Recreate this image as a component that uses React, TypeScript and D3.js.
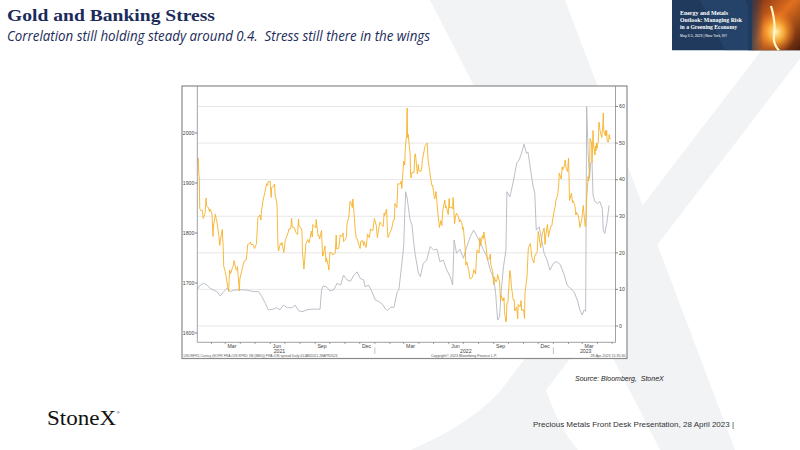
import * as d3 from "d3";

// Gold spot (left axis, USD/oz)
const gold2021: [string, number][] = [
  ["2021-01-04", 1943], ["2021-01-05", 1950], ["2021-01-06", 1918], ["2021-01-07", 1913], ["2021-01-08", 1849],
  ["2021-01-11", 1844], ["2021-01-13", 1846], ["2021-01-15", 1829], ["2021-01-19", 1840], ["2021-01-21", 1870],
  ["2021-01-22", 1855], ["2021-01-26", 1850], ["2021-01-28", 1843], ["2021-01-29", 1848], ["2021-02-02", 1838],
  ["2021-02-04", 1793], ["2021-02-05", 1814], ["2021-02-09", 1838], ["2021-02-11", 1826], ["2021-02-12", 1824],
  ["2021-02-16", 1795], ["2021-02-18", 1775], ["2021-02-19", 1784], ["2021-02-23", 1807], ["2021-02-25", 1771],
  ["2021-02-26", 1734], ["2021-03-01", 1723], ["2021-03-03", 1713], ["2021-03-05", 1700], ["2021-03-08", 1683],
  ["2021-03-10", 1726], ["2021-03-12", 1719], ["2021-03-16", 1731], ["2021-03-18", 1736], ["2021-03-19", 1745],
  ["2021-03-23", 1727], ["2021-03-25", 1725], ["2021-03-26", 1733], ["2021-03-30", 1684], ["2021-03-31", 1708],
  ["2021-04-05", 1729], ["2021-04-07", 1737], ["2021-04-09", 1744], ["2021-04-13", 1746], ["2021-04-15", 1764],
  ["2021-04-16", 1777], ["2021-04-20", 1779], ["2021-04-22", 1782], ["2021-04-23", 1777], ["2021-04-27", 1777],
  ["2021-04-29", 1772], ["2021-04-30", 1769], ["2021-05-04", 1779], ["2021-05-06", 1815], ["2021-05-07", 1831],
  ["2021-05-11", 1836], ["2021-05-13", 1826], ["2021-05-14", 1844], ["2021-05-18", 1868], ["2021-05-20", 1876],
  ["2021-05-21", 1881], ["2021-05-25", 1899], ["2021-05-27", 1895], ["2021-05-28", 1903], ["2021-06-01", 1903],
  ["2021-06-03", 1871], ["2021-06-04", 1891], ["2021-06-08", 1893], ["2021-06-10", 1898], ["2021-06-11", 1877],
  ["2021-06-15", 1858], ["2021-06-16", 1812], ["2021-06-17", 1773], ["2021-06-18", 1764], ["2021-06-22", 1779],
  ["2021-06-24", 1776], ["2021-06-25", 1781], ["2021-06-29", 1761], ["2021-06-30", 1770], ["2021-07-02", 1787],
  ["2021-07-06", 1796], ["2021-07-08", 1802], ["2021-07-09", 1808], ["2021-07-13", 1808], ["2021-07-15", 1829],
  ["2021-07-16", 1812], ["2021-07-20", 1811], ["2021-07-22", 1806], ["2021-07-23", 1802], ["2021-07-27", 1797],
  ["2021-07-29", 1828], ["2021-07-30", 1814], ["2021-08-03", 1810], ["2021-08-05", 1804], ["2021-08-06", 1763],
  ["2021-08-09", 1728], ["2021-08-11", 1752], ["2021-08-13", 1779], ["2021-08-17", 1787], ["2021-08-19", 1781],
  ["2021-08-20", 1781], ["2021-08-24", 1804], ["2021-08-26", 1792], ["2021-08-27", 1817], ["2021-08-31", 1813],
  ["2021-09-02", 1810], ["2021-09-03", 1827], ["2021-09-07", 1794], ["2021-09-09", 1795], ["2021-09-10", 1788],
  ["2021-09-14", 1805], ["2021-09-16", 1754], ["2021-09-17", 1754], ["2021-09-21", 1774], ["2021-09-23", 1742],
  ["2021-09-24", 1750], ["2021-09-28", 1734], ["2021-09-29", 1726], ["2021-10-01", 1761], ["2021-10-05", 1760],
  ["2021-10-07", 1756], ["2021-10-08", 1757], ["2021-10-12", 1760], ["2021-10-14", 1796], ["2021-10-15", 1768],
  ["2021-10-19", 1769], ["2021-10-21", 1784], ["2021-10-22", 1796], ["2021-10-26", 1793], ["2021-10-28", 1800],
  ["2021-10-29", 1783], ["2021-11-02", 1788], ["2021-11-04", 1793], ["2021-11-05", 1818], ["2021-11-09", 1832],
  ["2021-11-11", 1862], ["2021-11-12", 1864], ["2021-11-16", 1851], ["2021-11-17", 1868], ["2021-11-19", 1845],
  ["2021-11-22", 1805], ["2021-11-24", 1789], ["2021-11-26", 1788], ["2021-11-30", 1774], ["2021-12-02", 1769],
  ["2021-12-03", 1783], ["2021-12-07", 1785], ["2021-12-09", 1775], ["2021-12-10", 1783], ["2021-12-14", 1771],
  ["2021-12-15", 1778], ["2021-12-17", 1798], ["2021-12-21", 1790], ["2021-12-23", 1808], ["2021-12-28", 1805],
  ["2021-12-31", 1829],
];

const gold2022: [string, number][] = [
  ["2022-01-04", 1815], ["2022-01-06", 1791], ["2022-01-07", 1797], ["2022-01-11", 1821], ["2022-01-13", 1821],
  ["2022-01-14", 1817], ["2022-01-18", 1813], ["2022-01-20", 1840], ["2022-01-21", 1835], ["2022-01-25", 1848],
  ["2022-01-27", 1797], ["2022-01-28", 1791], ["2022-02-01", 1801], ["2022-02-03", 1805], ["2022-02-04", 1807],
  ["2022-02-08", 1826], ["2022-02-10", 1827], ["2022-02-11", 1859], ["2022-02-15", 1851], ["2022-02-17", 1899],
  ["2022-02-18", 1898], ["2022-02-22", 1898], ["2022-02-24", 1904], ["2022-02-25", 1889], ["2022-03-01", 1944],
  ["2022-03-03", 1936], ["2022-03-04", 1966], ["2022-03-07", 1998], ["2022-03-08", 2050], ["2022-03-09", 1991],
  ["2022-03-10", 1998], ["2022-03-11", 1988], ["2022-03-14", 1960], ["2022-03-15", 1917], ["2022-03-16", 1910],
  ["2022-03-18", 1921], ["2022-03-22", 1921], ["2022-03-24", 1958], ["2022-03-25", 1958], ["2022-03-29", 1918],
  ["2022-03-31", 1937], ["2022-04-01", 1925], ["2022-04-05", 1923], ["2022-04-07", 1931], ["2022-04-08", 1945],
  ["2022-04-12", 1966], ["2022-04-14", 1975], ["2022-04-18", 1980], ["2022-04-20", 1945], ["2022-04-22", 1931],
  ["2022-04-26", 1904], ["2022-04-28", 1894], ["2022-04-29", 1896], ["2022-05-03", 1868], ["2022-05-05", 1876],
  ["2022-05-06", 1883], ["2022-05-10", 1838], ["2022-05-12", 1821], ["2022-05-13", 1811], ["2022-05-16", 1825],
  ["2022-05-18", 1815], ["2022-05-20", 1846], ["2022-05-24", 1866], ["2022-05-26", 1850], ["2022-05-27", 1853],
  ["2022-05-31", 1837], ["2022-06-02", 1869], ["2022-06-03", 1850], ["2022-06-07", 1852], ["2022-06-09", 1848],
  ["2022-06-10", 1871], ["2022-06-13", 1819], ["2022-06-15", 1834], ["2022-06-17", 1840], ["2022-06-21", 1832],
  ["2022-06-23", 1822], ["2022-06-24", 1827], ["2022-06-28", 1820], ["2022-06-30", 1807], ["2022-07-01", 1811],
  ["2022-07-05", 1764], ["2022-07-06", 1736], ["2022-07-08", 1742], ["2022-07-12", 1725], ["2022-07-14", 1711],
  ["2022-07-15", 1708], ["2022-07-19", 1711], ["2022-07-21", 1718], ["2022-07-22", 1727], ["2022-07-26", 1718],
  ["2022-07-28", 1756], ["2022-07-29", 1766], ["2022-08-02", 1760], ["2022-08-04", 1791], ["2022-08-05", 1775],
  ["2022-08-09", 1795], ["2022-08-11", 1789], ["2022-08-12", 1802], ["2022-08-16", 1775], ["2022-08-18", 1758],
  ["2022-08-19", 1747], ["2022-08-23", 1748], ["2022-08-25", 1758], ["2022-08-26", 1737], ["2022-08-30", 1723],
  ["2022-09-01", 1697], ["2022-09-02", 1712], ["2022-09-06", 1702], ["2022-09-08", 1708], ["2022-09-09", 1717],
  ["2022-09-13", 1702], ["2022-09-15", 1665], ["2022-09-16", 1675], ["2022-09-20", 1664], ["2022-09-22", 1671],
  ["2022-09-23", 1643], ["2022-09-26", 1622], ["2022-09-27", 1628], ["2022-09-28", 1660], ["2022-09-30", 1661],
  ["2022-10-04", 1725], ["2022-10-06", 1712], ["2022-10-07", 1694], ["2022-10-11", 1666], ["2022-10-13", 1666],
  ["2022-10-14", 1644], ["2022-10-18", 1652], ["2022-10-20", 1628], ["2022-10-21", 1657], ["2022-10-25", 1652],
  ["2022-10-27", 1665], ["2022-10-28", 1645], ["2022-11-01", 1647], ["2022-11-03", 1629], ["2022-11-04", 1681],
  ["2022-11-08", 1712], ["2022-11-10", 1755], ["2022-11-11", 1771], ["2022-11-15", 1779], ["2022-11-17", 1761],
  ["2022-11-18", 1751], ["2022-11-22", 1740], ["2022-11-24", 1755], ["2022-11-25", 1755], ["2022-11-29", 1763],
  ["2022-12-01", 1803], ["2022-12-02", 1797], ["2022-12-06", 1771], ["2022-12-08", 1789], ["2022-12-09", 1797],
  ["2022-12-13", 1810], ["2022-12-15", 1777], ["2022-12-16", 1793], ["2022-12-20", 1817], ["2022-12-22", 1792],
  ["2022-12-23", 1798], ["2022-12-27", 1814], ["2022-12-29", 1815], ["2022-12-30", 1824],
];

const gold2023: [string, number][] = [
  ["2023-01-03", 1846], ["2023-01-05", 1855], ["2023-01-06", 1865], ["2023-01-10", 1877], ["2023-01-12", 1897],
  ["2023-01-13", 1920], ["2023-01-17", 1908], ["2023-01-19", 1932], ["2023-01-20", 1926], ["2023-01-24", 1936],
  ["2023-01-25", 1946], ["2023-01-27", 1929], ["2023-01-30", 1923], ["2023-02-01", 1950], ["2023-02-02", 1912],
  ["2023-02-03", 1865], ["2023-02-07", 1880], ["2023-02-09", 1861], ["2023-02-10", 1865], ["2023-02-14", 1855],
  ["2023-02-16", 1836], ["2023-02-17", 1842], ["2023-02-21", 1835], ["2023-02-23", 1822], ["2023-02-24", 1811],
  ["2023-02-28", 1827], ["2023-03-01", 1836], ["2023-03-03", 1855], ["2023-03-07", 1813], ["2023-03-08", 1814],
  ["2023-03-09", 1831], ["2023-03-10", 1868], ["2023-03-13", 1913], ["2023-03-14", 1904], ["2023-03-15", 1918],
  ["2023-03-16", 1921], ["2023-03-17", 1989], ["2023-03-20", 1980], ["2023-03-21", 1941], ["2023-03-22", 1970],
  ["2023-03-23", 2005], ["2023-03-24", 1978], ["2023-03-27", 1956], ["2023-03-28", 1974], ["2023-03-29", 1964],
  ["2023-03-30", 1980], ["2023-03-31", 1969], ["2023-04-03", 1984], ["2023-04-04", 2021], ["2023-04-05", 2021],
  ["2023-04-06", 2007], ["2023-04-10", 1991], ["2023-04-11", 2004], ["2023-04-12", 2015], ["2023-04-13", 2040],
  ["2023-04-14", 2004], ["2023-04-17", 1995], ["2023-04-18", 2005], ["2023-04-19", 1994], ["2023-04-20", 2005],
  ["2023-04-21", 1983], ["2023-04-24", 1982], ["2023-04-25", 1997], ["2023-04-26", 1990], ["2023-04-27", 1988],
  ["2023-04-28", 1990],
];

// SOFR FRA-OIS spread (right axis, bp)
const spread2021: [string, number][] = [
  ["2021-01-03", 10.0], ["2021-01-09", 11.2], ["2021-01-16", 11.7], ["2021-01-23", 11.2], ["2021-01-29", 10.3],
  ["2021-02-05", 9.8], ["2021-02-12", 9.4], ["2021-02-19", 8.2], ["2021-02-26", 9.4], ["2021-03-05", 10.3],
  ["2021-03-12", 9.4], ["2021-03-18", 9.8], ["2021-04-01", 9.9], ["2021-04-14", 9.8], ["2021-04-28", 9.4],
  ["2021-05-08", 9.4], ["2021-05-15", 8.0], ["2021-05-22", 6.2], ["2021-05-28", 4.4], ["2021-06-07", 4.6],
  ["2021-06-14", 5.0], ["2021-06-21", 4.4], ["2021-06-28", 5.7], ["2021-07-06", 5.0], ["2021-07-16", 5.0],
  ["2021-07-22", 5.7], ["2021-07-29", 4.2], ["2021-08-05", 3.9], ["2021-08-15", 4.4], ["2021-08-25", 4.6],
  ["2021-09-04", 4.6], ["2021-09-11", 4.6], ["2021-09-14", 9.8], ["2021-09-17", 10.9], ["2021-09-24", 10.7],
  ["2021-10-01", 9.6], ["2021-10-09", 9.9], ["2021-10-16", 11.7], ["2021-10-23", 11.2], ["2021-10-29", 13.9],
  ["2021-11-05", 12.6], ["2021-11-12", 12.2], ["2021-11-19", 13.9], ["2021-11-26", 14.8], ["2021-12-02", 13.0],
  ["2021-12-09", 12.6], ["2021-12-12", 10.7], ["2021-12-19", 11.2], ["2021-12-26", 9.4],
];

const spread2022: [string, number][] = [
  ["2022-01-02", 7.1], ["2022-01-09", 6.7], ["2022-01-16", 6.0], ["2022-01-23", 4.6], ["2022-01-26", 4.2],
  ["2022-02-02", 5.1], ["2022-02-09", 5.1], ["2022-02-16", 9.4], ["2022-02-19", 9.8], ["2022-02-26", 18.0],
  ["2022-03-01", 22.0], ["2022-03-03", 30.0], ["2022-03-05", 36.7], ["2022-03-08", 35.0], ["2022-03-10", 33.0],
  ["2022-03-14", 29.0], ["2022-03-18", 27.6], ["2022-03-21", 23.5], ["2022-03-24", 19.9], ["2022-03-31", 14.5],
  ["2022-04-04", 13.5], ["2022-04-10", 17.1], ["2022-04-17", 18.0], ["2022-04-24", 21.7], ["2022-05-01", 20.8],
  ["2022-05-08", 21.0], ["2022-05-14", 17.6], ["2022-05-21", 18.0], ["2022-05-28", 15.3], ["2022-06-04", 13.5],
  ["2022-06-09", 11.2], ["2022-06-12", 23.5], ["2022-06-17", 19.9], ["2022-06-24", 21.0], ["2022-07-01", 18.5],
  ["2022-07-08", 21.7], ["2022-07-15", 24.4], ["2022-07-22", 26.2], ["2022-07-29", 24.4], ["2022-08-05", 22.6],
  ["2022-08-11", 20.8], ["2022-08-18", 18.9], ["2022-08-25", 15.3], ["2022-09-01", 13.0], ["2022-09-05", 8.9],
  ["2022-09-09", 1.6], ["2022-09-13", 2.5], ["2022-09-16", 8.9], ["2022-09-21", 16.2], ["2022-09-26", 20.8],
  ["2022-09-28", 36.7], ["2022-10-04", 35.3], ["2022-10-11", 39.4], ["2022-10-18", 44.5], ["2022-10-23", 45.4],
  ["2022-10-28", 47.2], ["2022-11-02", 49.7], ["2022-11-07", 47.2], ["2022-11-10", 47.6], ["2022-11-15", 43.1],
  ["2022-11-20", 38.5], ["2022-11-24", 36.3], ["2022-11-27", 26.2], ["2022-12-03", 27.1], ["2022-12-08", 23.5],
  ["2022-12-13", 19.9], ["2022-12-19", 18.0], ["2022-12-25", 15.3],
];

const spread2023: [string, number][] = [
  ["2023-01-01", 17.1], ["2023-01-08", 17.6], ["2023-01-15", 16.8], ["2023-01-22", 14.4], ["2023-01-29", 11.2],
  ["2023-02-05", 10.3], ["2023-02-12", 9.4], ["2023-02-19", 7.1], ["2023-02-24", 4.4], ["2023-03-01", 3.0],
  ["2023-03-05", 4.4], ["2023-03-08", 4.0], ["2023-03-10", 60.0], ["2023-03-13", 47.6], ["2023-03-16", 40.4],
  ["2023-03-18", 44.5], ["2023-03-21", 44.9], ["2023-03-23", 35.8], ["2023-03-27", 34.0], ["2023-04-01", 33.5],
  ["2023-04-06", 34.0], ["2023-04-11", 32.2], ["2023-04-13", 26.2], ["2023-04-16", 25.3], ["2023-04-20", 28.0],
  ["2023-04-23", 31.0], ["2023-04-25", 33.0],
];

const leftTicks = [1600, 1700, 1800, 1900, 2000];
const rightTicks = [0, 10, 20, 30, 40, 50, 60];
const yearLabels: [string, string][] = [
  ["2021", "2021-06-20"],
  ["2022", "2022-07-06"],
  ["2023", "2023-03-08"],
];

const plot = { left: 197.3, right: 615.5, top: 86, bottom: 342.3 };
const navy = "#1c2b5a";

export default function App() {
  const parse = d3.timeParse("%Y-%m-%d");
  const toPts = (arr: [string, number][]) => arr.map(([d, v]) => [parse(d) as Date, v] as [Date, number]);

  const x = d3
    .scaleTime()
    .domain([parse("2021-01-03") as Date, parse("2023-05-08") as Date])
    .range([plot.left, plot.right]);
  const yGold = d3.scaleLinear().domain([1581.4, 2094]).range([plot.bottom, plot.top]);
  const ySpread = d3.scaleLinear().domain([-4.46, 65.6]).range([plot.bottom, plot.top]);

  const goldPath = d3
    .line<[Date, number]>()
    .x((d) => x(d[0]))
    .y((d) => yGold(d[1]))(toPts([...gold2021, ...gold2022, ...gold2023]));
  const spreadPath = d3
    .line<[Date, number]>()
    .x((d) => x(d[0]))
    .y((d) => ySpread(d[1]))(toPts([...spread2021, ...spread2022, ...spread2023]));

  const [d0, d1] = x.domain();
  const months = d3.timeMonth.range(d0, d1);
  const labelMonths = months.filter((m) => m.getMonth() % 3 === 2);
  const yearStarts = d3.timeYear.range(d0, d1);
  const fmtMonth = d3.timeFormat("%b");

  const axisFont = "Liberation Sans, Arial, sans-serif";

  return (
    <svg
      width={800}
      height={450}
      viewBox="0 0 800 450"
      style={{ position: "fixed", left: 0, top: 0, background: "#fff" }}
    >
      <defs>
        <linearGradient id="fireBase" x1="0" x2="1" y1="0" y2="1">
          <stop offset="0" stopColor="#7a2a10" />
          <stop offset="0.45" stopColor="#e0701f" />
          <stop offset="1" stopColor="#4a1a0c" />
        </linearGradient>
        <radialGradient id="glow" cx="0.5" cy="0.5" r="0.5">
          <stop offset="0" stopColor="#fff2b0" stopOpacity="1" />
          <stop offset="0.4" stopColor="#ffb23a" stopOpacity="0.9" />
          <stop offset="1" stopColor="#f07020" stopOpacity="0" />
        </radialGradient>
        <linearGradient id="fade" x1="0" x2="1" y1="0" y2="0">
          <stop offset="0" stopColor="#1f3a5c" stopOpacity="1" />
          <stop offset="1" stopColor="#1f3a5c" stopOpacity="0" />
        </linearGradient>
        <clipPath id="plotClip">
          <rect x={plot.left} y={plot.top} width={plot.right - plot.left} height={plot.bottom - plot.top} />
        </clipPath>
        <clipPath id="bannerClip">
          <rect x={672} y={0} width={128} height={50.5} />
        </clipPath>
      </defs>

      {/* background watermark X */}
      <g fill="#f2f3f5">
        <path d="M430,0 L565,0 L735,450 L660,450 Z" />
        <path d="M800,0 L845,0 L546,390 Q560,430 578,450 L410,450 Q470,425 501,390 Z" />
      </g>

      {/* title */}
      <text x={7} y={21} fontFamily="Liberation Serif, Times New Roman, serif" fontWeight="bold" fontSize={17}
        fill={navy} textLength={208} lengthAdjust="spacingAndGlyphs">
        Gold and Banking Stress
      </text>
      <text x={7} y={40.5} fontFamily="Open Sans, Liberation Sans, sans-serif" fontStyle="italic" fontSize={14}
        fill={navy} textLength={423} lengthAdjust="spacingAndGlyphs" style={{ whiteSpace: "pre" }}>
        {"Correlation still holding steady around 0.4.  Stress still there in the wings"}
      </text>

      {/* event banner */}
      <g clipPath="url(#bannerClip)">
        <rect x={672} y={0} width={128} height={50.5} fill="#1f3a5c" />
        <path d="M700,0 L745,0 L770,50.5 L725,50.5 Z" fill="#2a4a70" opacity={0.6} />
        <rect x={752} y={0} width={48} height={50.5} fill="url(#fireBase)" />
        <ellipse cx={776} cy={32} rx={20} ry={22} fill="url(#glow)" />
        <path d="M771,6 Q776,22 774,36 Q773,44 779,50.5" stroke="#fff6c8" strokeWidth={2.2} fill="none" />
        <rect x={748} y={0} width={16} height={50.5} fill="url(#fade)" />
      </g>
      <g fontFamily="Liberation Serif, Times New Roman, serif" fontWeight="bold" fill="#fff" fontSize={6.6}>
        <text x={680} y={15} textLength={48} lengthAdjust="spacingAndGlyphs">Energy and Metals</text>
        <text x={680} y={22} textLength={62} lengthAdjust="spacingAndGlyphs">Outlook: Managing Risk</text>
        <text x={680} y={29} textLength={57} lengthAdjust="spacingAndGlyphs">in a Greening Economy</text>
      </g>
      <text x={680} y={37} fontFamily={axisFont} fontSize={3.8} fill="#fff" textLength={47} lengthAdjust="spacingAndGlyphs">
        May 3-5, 2023 | New York, NY
      </text>

      {/* chart frame */}
      <rect x={182} y={86} width={445} height={272.5} fill="#fff" stroke="#8a8a8a" strokeWidth={1.2} />

      {/* gridlines on right-axis ticks */}
      {rightTicks.map((t) => (
        <line key={"g" + t} x1={plot.left} x2={plot.right} y1={ySpread(t)} y2={ySpread(t)} stroke="#e4e4e4" strokeWidth={0.9} />
      ))}

      {/* series */}
      <g clipPath="url(#plotClip)" fill="none" strokeLinejoin="round">
        <path d={spreadPath ?? ""} stroke="#b3b8bf" strokeWidth={0.9} />
        <path d={goldPath ?? ""} stroke="#f6b128" strokeWidth={0.9} />
      </g>

      {/* axes lines */}
      <g stroke="#8c8c8c" strokeWidth={0.8}>
        <line x1={plot.left} x2={plot.left} y1={plot.top} y2={plot.bottom} />
        <line x1={plot.right} x2={plot.right} y1={plot.top} y2={plot.bottom} />
        <line x1={plot.left} x2={plot.right} y1={plot.bottom} y2={plot.bottom} />
      </g>

      {/* left axis */}
      {leftTicks.map((t) => (
        <g key={"l" + t}>
          <line x1={plot.left - 2.5} x2={plot.left} y1={yGold(t)} y2={yGold(t)} stroke="#555" strokeWidth={0.7} />
          <text x={plot.left - 3} y={yGold(t) + 1.8} textAnchor="end" fontFamily={axisFont} fontSize={5.2} fill="#444">
            {t}
          </text>
        </g>
      ))}

      {/* right axis */}
      {rightTicks.map((t) => (
        <g key={"r" + t}>
          <line x1={plot.right} x2={plot.right + 2.5} y1={ySpread(t)} y2={ySpread(t)} stroke="#555" strokeWidth={0.7} />
          <text x={plot.right + 3.5} y={ySpread(t) + 1.8} fontFamily={axisFont} fontSize={5.2} fill="#444">
            {t}
          </text>
        </g>
      ))}

      {/* bottom axis */}
      {months.map((m) => (
        <line key={"m" + m.getTime()} x1={x(m)} x2={x(m)} y1={plot.bottom} y2={plot.bottom + 1.8} stroke="#666" strokeWidth={0.6} />
      ))}
      {labelMonths.map((m) => (
        <text key={"ml" + m.getTime()} x={x(new Date(m.getFullYear(), m.getMonth(), 15))} y={347.8}
          textAnchor="middle" fontFamily={axisFont} fontSize={5.2} fill="#444">
          {fmtMonth(m)}
        </text>
      ))}
      {yearStarts.map((yv) => (
        <line key={"y" + yv.getTime()} x1={x(yv)} x2={x(yv)} y1={347.5} y2={354} stroke="#999" strokeWidth={0.6} />
      ))}
      {yearLabels.map(([label, d]) => (
        <text key={label} x={x(parse(d) as Date)} y={352.8} textAnchor="middle" fontFamily={axisFont} fontSize={5.2} fill="#444">
          {label}
        </text>
      ))}

      {/* chart footer */}
      <g fontFamily={axisFont} fontSize={3.6} fill="#555">
        <text x={183.5} y={357.3} textLength={154} lengthAdjust="spacingAndGlyphs">
          USOSFR1 Curncy (SOFR FRA-OIS SPRD 1M (BBG)) FRA-OIS spread  Daily 01JAN2021-28APR2023
        </text>
        <text x={464} y={357.3} textAnchor="middle">Copyright© 2023 Bloomberg Finance L.P.</text>
        <text x={625.5} y={357.3} textAnchor="end">28-Apr-2023 15:35:30</text>
      </g>

      {/* source */}
      <text x={575} y={381} fontFamily={axisFont} fontStyle="italic" fontSize={7} fill="#222" style={{ whiteSpace: "pre" }}>
        {"Source: Bloomberg,  StoneX"}
      </text>

      {/* footer */}
      <text x={47} y={424.5} fontFamily="Liberation Serif, Times New Roman, serif" fontSize={21} fill="#111"
        textLength={69} lengthAdjust="spacingAndGlyphs">
        StoneX
      </text>
      <text x={117} y={414} fontFamily={axisFont} fontSize={3.5} fill="#111">®</text>
      <text x={533} y={426.5} fontFamily={axisFont} fontSize={8} fill="#333" textLength={201} lengthAdjust="spacingAndGlyphs">
        Precious Metals Front Desk Presentation, 28 April 2023 |
      </text>
    </svg>
  );
}
